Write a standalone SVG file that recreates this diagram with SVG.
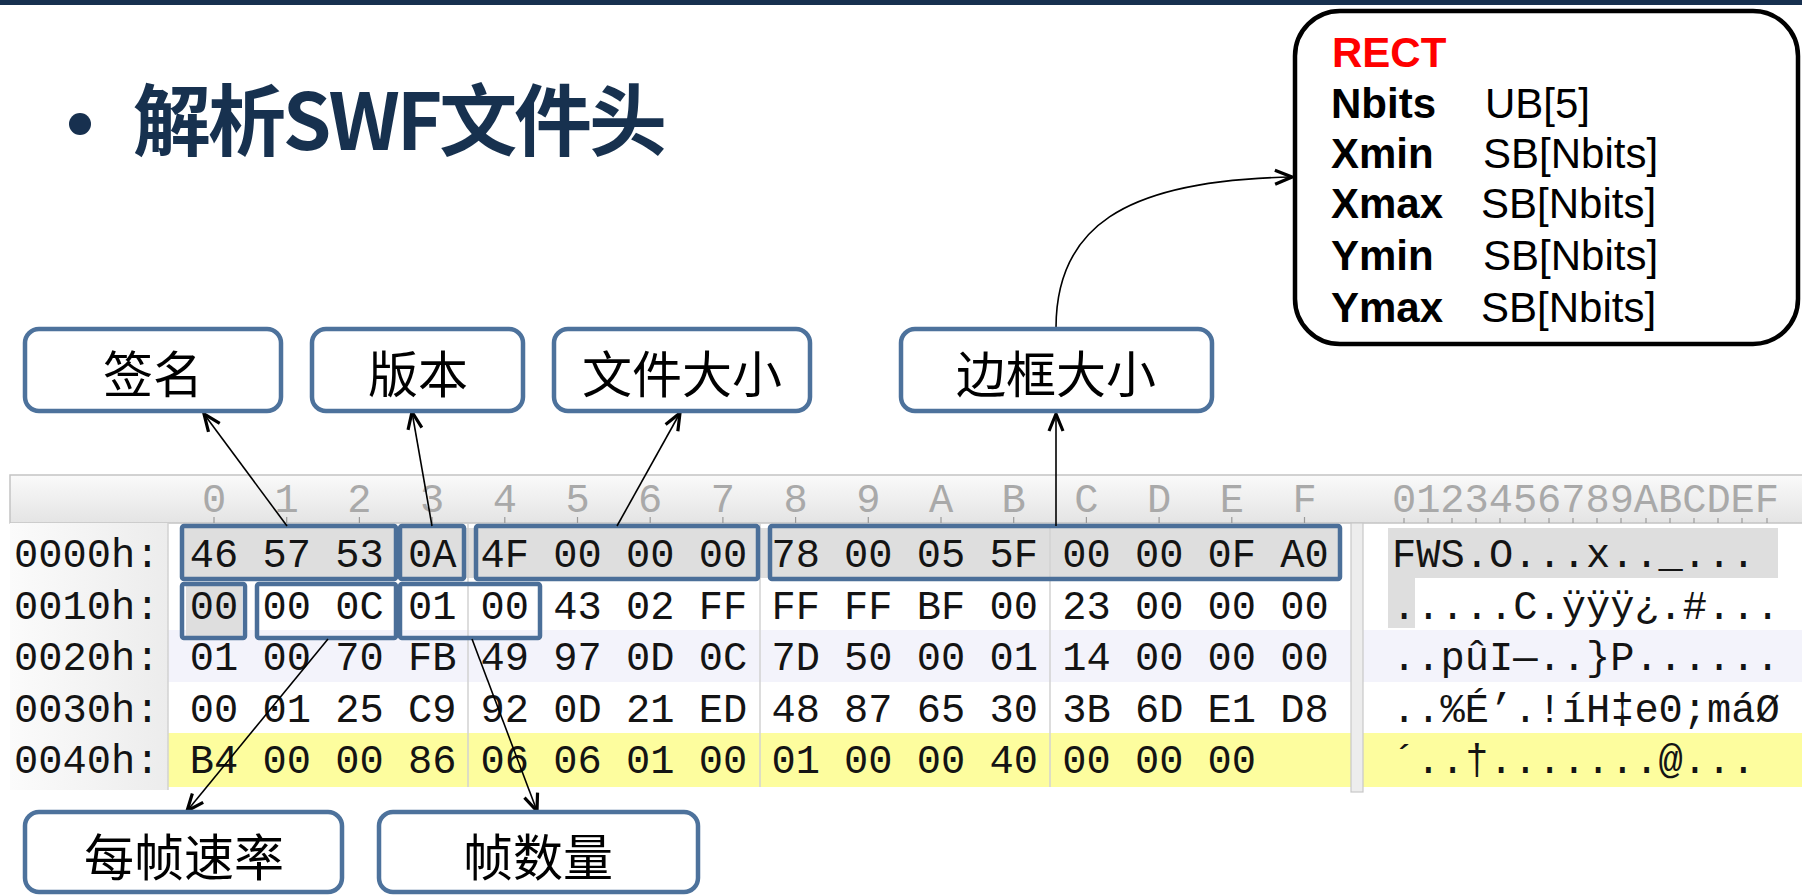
<svg xmlns="http://www.w3.org/2000/svg" width="1802" height="895" viewBox="0 0 1802 895">
<defs>
<style>
.lbl rect{fill:#fff;stroke:#4d729c;stroke-width:4.5}
.lbl text{font-family:"Noto Sans CJK SC","Noto Sans CJK TC",sans-serif;font-size:50px;text-anchor:middle;fill:#000}
.sel{fill:none;stroke:#4b6f99;stroke-width:4.5}
.hex{font-family:"Liberation Mono",monospace;font-size:40.4px;fill:#141414}
.hdr{font-family:"Liberation Mono",monospace;font-size:40.4px;fill:#a9a9a9}
.conn{fill:none;stroke:#000;stroke-width:1.6;marker-end:url(#ah)}
.rk{font-family:"Liberation Sans",Arial,sans-serif;font-size:42px;font-weight:bold;fill:#000}
.rv{font-family:"Liberation Sans",Arial,sans-serif;font-size:42px;fill:#000}
.sep{stroke:#d2d2d2;stroke-width:1.5}
.tick{stroke:#9a9a9a;stroke-width:1.2}
</style>
<marker id="ah" markerUnits="userSpaceOnUse" viewBox="0 0 22 18" markerWidth="22" markerHeight="18" refX="20" refY="9" orient="auto">
<path d="M3,2 L20,9 L3,16" fill="none" stroke="#000" stroke-width="3.2"/>
</marker>
<linearGradient id="hg" x1="0" y1="0" x2="0" y2="1"><stop offset="0" stop-color="#fafafa"/><stop offset="1" stop-color="#e4e4e4"/></linearGradient>
<linearGradient id="lg" x1="0" y1="0" x2="1" y2="0"><stop offset="0" stop-color="#fbfbfb"/><stop offset="1" stop-color="#ececec"/></linearGradient>
</defs>
<rect x="0" y="0" width="1802" height="895" fill="#fff"/>
<rect x="0" y="0" width="1802" height="5" fill="#17304f"/>

<g id="title">
<circle cx="80" cy="124" r="11" fill="#17304f"/>
<text x="133" y="150" font-family="'Noto Sans CJK SC','Noto Sans CJK TC',sans-serif" font-size="78" font-weight="bold" fill="#17314f" textLength="534">解析SWF文件头</text>
</g>

<g id="hexview">
<!-- header -->
<rect x="10" y="475" width="1800" height="48" fill="url(#hg)" stroke="#c4c4c4" stroke-width="1.5"/>
<text class="hdr" text-anchor="middle" x="214 286.7 359.4 432.1 504.8 577.5 650.2 722.9 795.6 868.3 941 1013.7 1086.4 1159.1 1231.8 1304.5" y="512">0123456789ABCDEF</text>
<text class="hdr" x="1392" y="512" textLength="387">0123456789ABCDEF</text>
<g class="tick">
<path d="M214,517V523M286.7,517V523M359.4,517V523M432.1,517V523M504.8,517V523M577.5,517V523M650.2,517V523M722.9,517V523M795.6,517V523M868.3,517V523M941,517V523M1013.7,517V523M1086.4,517V523M1159.1,517V523M1231.8,517V523M1304.5,517V523"/>
<path d="M1404,518V523M1428,518V523M1452,518V523M1476,518V523M1500,518V523M1525,518V523M1549,518V523M1573,518V523M1597,518V523M1621,518V523M1646,518V523M1670,518V523M1694,518V523M1718,518V523M1742,518V523M1767,518V523"/>
</g>
<!-- label column -->
<rect x="10" y="523" width="158" height="267" fill="url(#lg)"/>
<!-- row backgrounds -->
<rect x="168" y="630" width="1634" height="52" fill="#f3f3fb"/>
<rect x="168" y="733" width="1634" height="54" fill="#fdfd9e"/>
<rect x="184" y="528" width="1155" height="50" fill="#dedede"/>
<rect x="186" y="585" width="56" height="51" fill="#dedede"/>
<rect x="1388" y="528" width="390" height="50" fill="#dedede"/>
<rect x="1388" y="578" width="27" height="50" fill="#dedede"/>
<!-- separators -->
<line class="sep" x1="168" y1="523" x2="168" y2="790"/>
<line class="sep" x1="468" y1="523" x2="468" y2="787"/>
<line class="sep" x1="760" y1="523" x2="760" y2="787"/>
<line class="sep" x1="1050" y1="523" x2="1050" y2="787"/>
<rect x="1351" y="523" width="12" height="269" fill="#ededed" stroke="#c8c8c8" stroke-width="1.2"/>
<!-- row labels -->
<text class="hex" x="14" y="567">0000h:</text>
<text class="hex" x="14" y="618.5">0010h:</text>
<text class="hex" x="14" y="670">0020h:</text>
<text class="hex" x="14" y="721.5">0030h:</text>
<text class="hex" x="14" y="773">0040h:</text>
<!-- hex bytes -->
<text class="hex" x="189.8" y="567" textLength="1139">46 57 53 0A 4F 00 00 00 78 00 05 5F 00 00 0F A0</text>
<text class="hex" x="189.8" y="618.5" textLength="1139">00 00 0C 01 00 43 02 FF FF FF BF 00 23 00 00 00</text>
<text class="hex" x="189.8" y="670" textLength="1139">01 00 70 FB 49 97 0D 0C 7D 50 00 01 14 00 00 00</text>
<text class="hex" x="189.8" y="721.5" textLength="1139">00 01 25 C9 92 0D 21 ED 48 87 65 30 3B 6D E1 D8</text>
<text class="hex" x="189.8" y="773" textLength="1066.3">B4 00 00 86 06 06 01 00 01 00 00 40 00 00 00</text>
<!-- ascii -->
<text class="hex" x="1392" y="567">FWS.O...x.._...</text>
<text class="hex" x="1392" y="618.5">.....C.ÿÿÿ¿.#...</text>
<text class="hex" x="1392" y="670">..pûI—..}P......</text>
<text class="hex" x="1392" y="721.5">..%É’.!íH‡e0;máØ</text>
<text class="hex" x="1392" y="773">´..†.......@...</text>
<!-- field boxes -->
<rect class="sel" x="182" y="526" width="214" height="53" rx="2"/>
<rect class="sel" x="400" y="526" width="64" height="53" rx="2"/>
<rect class="sel" x="476" y="526" width="282" height="53" rx="2"/>
<rect class="sel" x="770" y="526" width="570" height="53" rx="2"/>
<rect class="sel" x="182" y="584" width="63" height="54" rx="2"/>
<rect class="sel" x="257" y="584" width="139" height="54" rx="2"/>
<rect class="sel" x="400" y="584" width="140" height="54" rx="2"/>
</g>

<g id="connectors">
<path class="conn" d="M287,526 L204,414"/>
<path class="conn" d="M432,526 L412,412"/>
<path class="conn" d="M617,526 L680,413"/>
<path class="conn" d="M1056,526 L1056,414"/>
<path class="conn" d="M328,639 L187,811"/>
<path class="conn" d="M472,639 L537,811"/>
<path class="conn" d="M1056,328 C1056,230 1120,180 1292,177"/>
</g>

<g id="node-signature" class="lbl"><rect x="25" y="329" width="256" height="82" rx="14"/><text x="153" y="393">签名</text></g>
<g id="node-version" class="lbl"><rect x="312" y="329" width="211" height="82" rx="14"/><text x="418" y="393">版本</text></g>
<g id="node-filesize" class="lbl"><rect x="554" y="329" width="256" height="82" rx="14"/><text x="682" y="393">文件大小</text></g>
<g id="node-framesize" class="lbl"><rect x="901" y="329" width="311" height="82" rx="14"/><text x="1056" y="393">边框大小</text></g>
<g id="node-framerate" class="lbl"><rect x="25" y="812" width="317" height="80" rx="14"/><text x="184" y="876">每帧速率</text></g>
<g id="node-framecount" class="lbl"><rect x="379" y="812" width="319" height="80" rx="14"/><text x="538" y="876">帧数量</text></g>

<g id="node-rect">
<rect x="1295" y="11" width="503" height="333" rx="45" fill="#fff" stroke="#000" stroke-width="4.5"/>
<text class="rk" x="1332" y="67" fill="#ff0000" style="fill:#ff0000">RECT</text>
<text class="rk" x="1331" y="118">Nbits</text><text class="rv" x="1485" y="118">UB[5]</text>
<text class="rk" x="1331" y="168">Xmin</text><text class="rv" x="1483" y="168">SB[Nbits]</text>
<text class="rk" x="1331" y="218">Xmax</text><text class="rv" x="1481" y="218">SB[Nbits]</text>
<text class="rk" x="1331" y="270">Ymin</text><text class="rv" x="1483" y="270">SB[Nbits]</text>
<text class="rk" x="1331" y="322">Ymax</text><text class="rv" x="1481" y="322">SB[Nbits]</text>
</g>
</svg>
